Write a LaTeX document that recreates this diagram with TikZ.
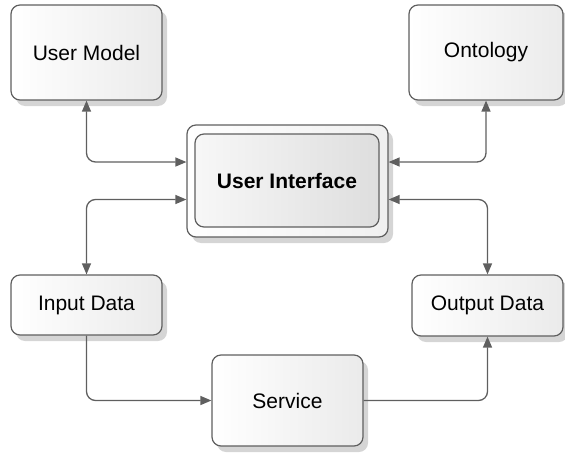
\documentclass[tikz,border=0pt]{standalone}
\usepackage{fontspec}
\setmainfont{Liberation Sans}
\usetikzlibrary{arrows.meta,shadows}
\definecolor{edgegray}{HTML}{5F5F5F}
\tikzset{
  box/.style={draw=edgegray, line width=1.2pt, rounded corners=9pt,
    left color=white, right color=black!8,
    drop shadow={shadow xshift=5pt, shadow yshift=-6pt, fill=black!22, opacity=0.75},
    font=\fontsize{21}{25}\selectfont, inner sep=0pt, align=center},
  innerbox/.style={draw=edgegray, line width=1.2pt, rounded corners=9pt,
    left color=black!3, right color=black!13,
    font=\fontsize{21}{25}\selectfont\bfseries, inner sep=0pt},
  conn/.style={draw=edgegray, line width=1.3pt, rounded corners=9pt},
  tip/.tip={Triangle[length=11pt,width=9pt]}
}
\begin{document}
\begin{tikzpicture}[x=1pt,y=-1pt]
\useasboundingbox (0,0) rectangle (565,455);
\node[box, minimum width=151pt, minimum height=95pt] (um) at (86.5,52.5) {User Model};
\node[box, minimum width=154pt, minimum height=95pt] (on) at (486,52.5) {Ontology};
\node[box, minimum width=201pt, minimum height=112pt, left color=white, right color=black!6] (ui) at (287.5,181) {};
\node[innerbox, minimum width=184pt, minimum height=93pt] (uiin) at (287,180.5) {User Interface};
\node[box, minimum width=151pt, minimum height=60pt] (in) at (86.5,305) {Input Data};
\node[box, minimum width=151pt, minimum height=61pt] (out) at (487.5,305.5) {Output Data};
\node[box, minimum width=151pt, minimum height=91pt] (sv) at (287.5,400.5) {Service};
\coordinate (r1) at (0,162);
\coordinate (r2) at (0,199.5);
\draw[conn, tip-tip] (um.south) |- (ui.west |- r1);
\draw[conn, tip-tip] (ui.west |- r2) -| (in.north);
\draw[conn, tip-tip] (on.south) |- (ui.east |- r1);
\draw[conn, tip-tip] (ui.east |- r2) -| (out.north);
\draw[conn, -tip] (in.south) |- (sv.west);
\draw[conn, -tip] (sv.east) -| (out.south);
\end{tikzpicture}
\end{document}
